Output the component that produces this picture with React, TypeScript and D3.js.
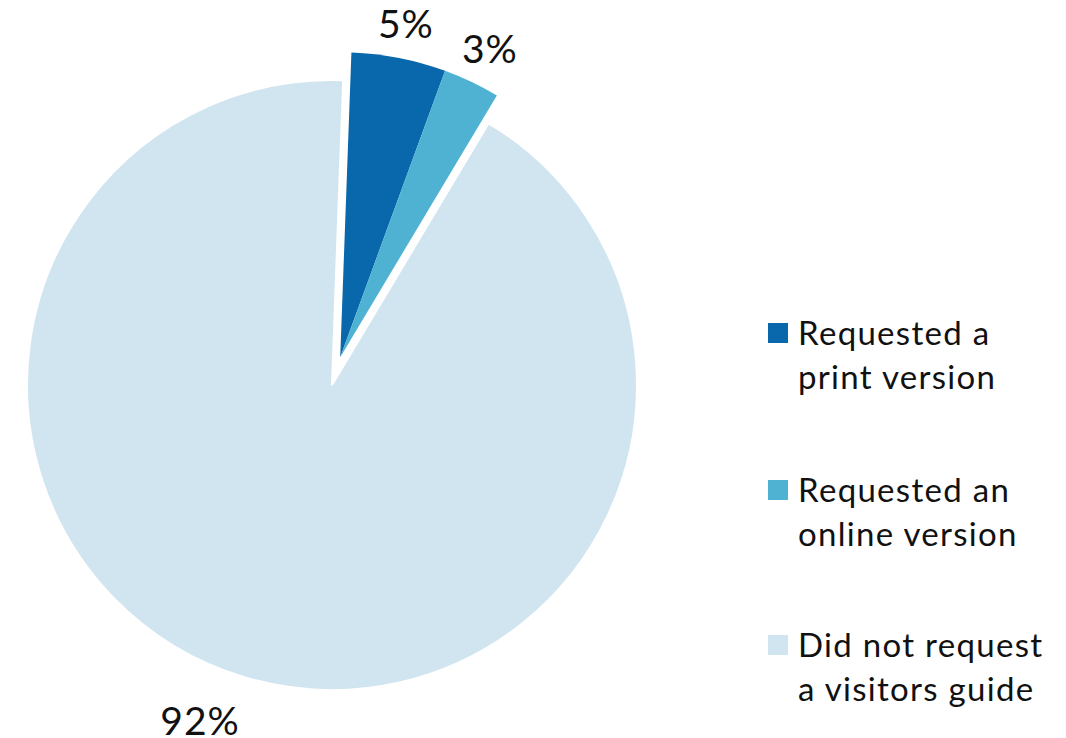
import React from 'react';
import * as d3 from 'd3';

const labels = ['Requested a print version', 'Requested an online version', 'Did not request a visitors guide'];
const legendLines = [['Requested a', 'print version'], ['Requested an', 'online version'], ['Did not request', 'a visitors guide']];
const values = [5, 3, 92];
const colors = ['#0868ab', '#4fb2d3', '#d1e5f0'];
const exploded = [true, true, false];
// small nudges for the percent labels (angle in degrees, radius)
const labelAngleShift = [0, 0.3, 5];
const labelRadius = [341, 344, 360];

const W = 1066;
const H = 738;

const App: React.FC = () => {
  const cx = 332;
  const cy = 385;
  const r = 305;
  const start = (2.1 * Math.PI) / 180;

  const pie = d3
    .pie<number>()
    .sort(null)
    .startAngle(start)
    .endAngle(start + 2 * Math.PI);
  const arcs = pie(values);
  const arc = d3.arc<d3.PieArcDatum<number>>().innerRadius(0).outerRadius(r);

  // exploded group offset along middle of the exploded slices
  const exArcs = arcs.filter((_, i) => exploded[i]);
  const exMid = (d3.min(exArcs, d => d.startAngle)! + d3.max(exArcs, d => d.endAngle)!) / 2;
  const exDist = 29;
  const ox = Math.sin(exMid) * exDist;
  const oy = -Math.cos(exMid) * exDist;

  const legendY = [323, 480, 635];
  const fontFamily = 'Lato, "Open Sans", sans-serif';

  return (
    <svg width={W} height={H} style={{ position: 'absolute', left: 0, top: 0 }} fontFamily={fontFamily}>
      <rect width={W} height={H} fill="#fff" />
      <g transform={`translate(${cx},${cy})`}>
        {arcs.map((a, i) => {
          const dx = exploded[i] ? ox : 0;
          const dy = exploded[i] ? oy : 0;
          return (
            <path
              key={i}
              d={arc(a) || ''}
              transform={`translate(${dx},${dy})`}
              fill={colors[i]}
              stroke={exploded[i] ? 'none' : '#fff'}
              strokeWidth={exploded[i] ? 0 : 2}
            />
          );
        })}
        {arcs.map((a, i) => {
          const dx = exploded[i] ? ox : 0;
          const dy = exploded[i] ? oy : 0;
          const ang = (a.startAngle + a.endAngle) / 2 + (labelAngleShift[i] * Math.PI) / 180;
          const lx = dx + Math.sin(ang) * labelRadius[i];
          const ly = dy - Math.cos(ang) * labelRadius[i];
          return (
            <text
              key={`l${i}`}
              x={lx}
              y={ly}
              textAnchor="middle"
              dominantBaseline="central"
              fontSize={39}
              letterSpacing={1}
              fill="#111"
            >
              {`${values[i]}%`}
            </text>
          );
        })}
      </g>
      <g>
        {labels.map((lab, i) => (
          <g key={lab} transform={`translate(768,${legendY[i]})`}>
            <rect width={20} height={20} fill={colors[i]} />
            {legendLines[i].map((t, j) => (
              <text key={j} x={30} y={22 + j * 44} fontSize={33} letterSpacing={1.3} fill="#111">
                {t}
              </text>
            ))}
          </g>
        ))}
      </g>
    </svg>
  );
};

export default App;
